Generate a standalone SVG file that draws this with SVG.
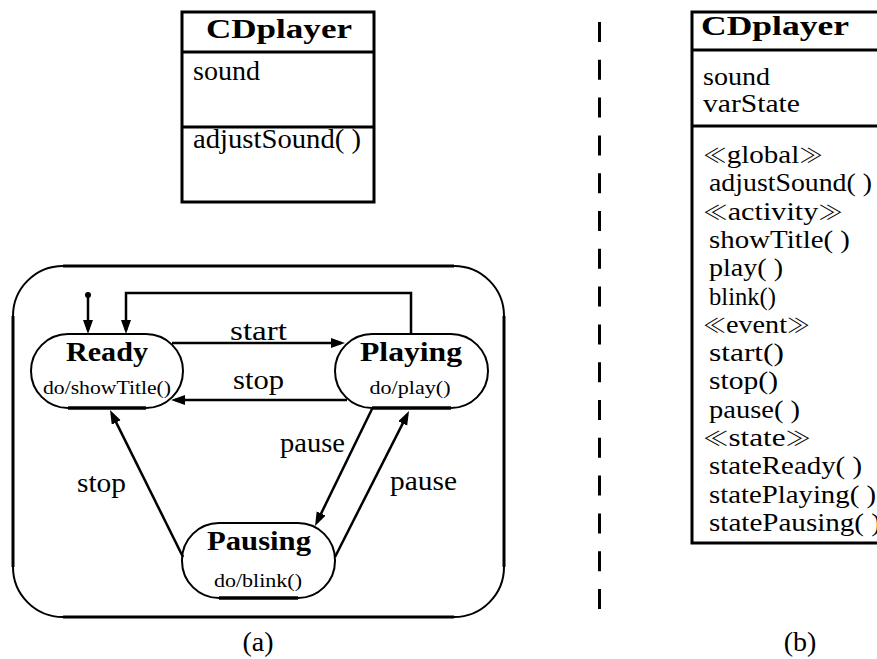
<svg xmlns="http://www.w3.org/2000/svg" width="877" height="659" viewBox="0 0 877 659">
<style>
  text { font-family: "Liberation Serif", "Times New Roman", "DejaVu Serif", serif; fill: #000; }
  .hdr { font-weight: bold; font-size: 27px; text-anchor: middle; }
  .body { font-size: 27px; }
  .list { font-size: 24.5px; }
  .st { font-weight: bold; font-size: 27px; text-anchor: middle; }
  .act { font-size: 18px; text-anchor: middle; }
  .lbl { font-size: 28px; }
  .cap { font-size: 28px; text-anchor: middle; }
  .ster { font-family: "Noto Sans CJK JP", "DejaVu Serif", serif; font-weight: 300; font-size: 20px; }
  .box { fill: #fff; stroke: #000; stroke-width: 3; }
  .sep { stroke: #000; stroke-width: 3; }
  .conn { fill: none; stroke: #000; stroke-width: 2.5; }
  .node { fill: #fff; stroke: #000; stroke-width: 2; }
  .base { stroke: #000; stroke-width: 3.5; }
  .frame { fill: none; stroke: #000; stroke-width: 2; }
  .edge { stroke: #000; stroke-width: 3; }
</style>
<defs>
  <marker id="arrow" markerUnits="userSpaceOnUse" markerWidth="16" markerHeight="12" refX="10" refY="5" orient="auto">
    <path d="M0,0 L14,5 L0,10 Z" fill="#000"/>
  </marker>
</defs>

<!-- (a) class with a single operation -->
<g id="classA">
  <rect class="box" x="182" y="12" width="192" height="190"/>
  <line class="sep" x1="182" y1="52" x2="374" y2="52"/>
  <line class="sep" x1="182" y1="127" x2="374" y2="127"/>
  <text class="hdr" x="279" y="38" textLength="146" lengthAdjust="spacingAndGlyphs">CDplayer</text>
  <text class="body" x="193" y="80" textLength="67" lengthAdjust="spacingAndGlyphs">sound</text>
  <text class="body" x="193" y="148" textLength="168" lengthAdjust="spacingAndGlyphs">adjustSound( )</text>
</g>

<!-- (a) enclosing state machine -->
<g id="machine">
  <rect class="frame" x="13" y="266" width="491" height="351" rx="50" ry="50"/>
  <line class="edge" x1="63" y1="266" x2="454" y2="266"/>
  <line class="edge" x1="63" y1="617" x2="454" y2="617"/>
  <line class="edge" x1="13" y1="316" x2="13" y2="567"/>
  <line class="edge" x1="504" y1="316" x2="504" y2="567"/>
</g>

<g id="ready">
  <rect class="node" x="31" y="334" width="152" height="74" rx="37" ry="37"/>
  <line class="base" x1="68" y1="408" x2="146" y2="408"/>
  <text class="st" x="107" y="361" textLength="82" lengthAdjust="spacingAndGlyphs">Ready</text>
  <text class="act" x="107" y="394" textLength="128" lengthAdjust="spacingAndGlyphs">do/showTitle()</text>
</g>

<g id="playing">
  <rect class="node" x="335" y="334" width="153" height="74" rx="37" ry="37"/>
  <line class="base" x1="372" y1="408" x2="451" y2="408"/>
  <text class="st" x="411" y="361" textLength="102" lengthAdjust="spacingAndGlyphs">Playing</text>
  <text class="act" x="410" y="394" textLength="81" lengthAdjust="spacingAndGlyphs">do/play()</text>
</g>

<g id="pausing">
  <rect class="node" x="182" y="523" width="153" height="75" rx="37" ry="37"/>
  <line class="base" x1="219" y1="598" x2="298" y2="598"/>
  <text class="st" x="259" y="550" textLength="104" lengthAdjust="spacingAndGlyphs">Pausing</text>
  <text class="act" x="258" y="587" textLength="88" lengthAdjust="spacingAndGlyphs">do/blink()</text>
</g>

<!-- transitions -->
<g id="connectors">
  <circle cx="88" cy="295" r="3" fill="#000"/>
  <line class="conn" x1="88" y1="295" x2="88" y2="330" marker-end="url(#arrow)"/>
  <path class="conn" d="M411,334 V293 H126 V330" marker-end="url(#arrow)"/>
  <line class="conn" x1="172" y1="343" x2="341" y2="343" marker-end="url(#arrow)"/>
  <line class="conn" x1="347" y1="400" x2="175" y2="400" marker-end="url(#arrow)"/>
  <line class="conn" x1="183" y1="557" x2="111.8" y2="413.6" marker-end="url(#arrow)"/>
  <line class="conn" x1="372" y1="409" x2="316.8" y2="522.4" marker-end="url(#arrow)"/>
  <line class="conn" x1="335" y1="557" x2="407.2" y2="414.6" marker-end="url(#arrow)"/>
  <text class="lbl" x="230" y="340" textLength="57" lengthAdjust="spacingAndGlyphs">start</text>
  <text class="lbl" x="233" y="389" textLength="51" lengthAdjust="spacingAndGlyphs">stop</text>
  <text class="lbl" x="77" y="492" textLength="49" lengthAdjust="spacingAndGlyphs">stop</text>
  <text class="lbl" x="280" y="452" textLength="65" lengthAdjust="spacingAndGlyphs">pause</text>
  <text class="lbl" x="390" y="490" textLength="67" lengthAdjust="spacingAndGlyphs">pause</text>
</g>

<text class="cap" x="258" y="651">(a)</text>

<!-- divider between the two parts -->
<line x1="599.5" y1="22" x2="599.5" y2="610" stroke="#000" stroke-width="3" stroke-dasharray="20 17.8"/>

<!-- (b) class with stereotyped operations -->
<g id="classB">
  <rect class="box" x="692" y="12" width="220" height="531"/>
  <line class="sep" x1="692" y1="50" x2="912" y2="50"/>
  <line class="sep" x1="692" y1="126" x2="912" y2="126"/>
  <text class="hdr" x="775" y="35" textLength="148" lengthAdjust="spacingAndGlyphs">CDplayer</text>
  <text class="list" x="703" y="85" textLength="67" lengthAdjust="spacingAndGlyphs">sound</text>
  <text class="list" x="703" y="112" textLength="97" lengthAdjust="spacingAndGlyphs">varState</text>
  <text class="list" x="703" y="163" textLength="120" lengthAdjust="spacingAndGlyphs"><tspan class="ster">≪</tspan>global<tspan class="ster">≫</tspan></text>
  <text class="list" x="709" y="191.3" textLength="163" lengthAdjust="spacingAndGlyphs">adjustSound( )</text>
  <text class="list" x="703" y="219.6" textLength="140" lengthAdjust="spacingAndGlyphs"><tspan class="ster">≪</tspan>activity<tspan class="ster">≫</tspan></text>
  <text class="list" x="709" y="247.9" textLength="141" lengthAdjust="spacingAndGlyphs">showTitle( )</text>
  <text class="list" x="709" y="276.2" textLength="74" lengthAdjust="spacingAndGlyphs">play( )</text>
  <text class="list" x="709" y="304.5" textLength="67" lengthAdjust="spacingAndGlyphs">blink()</text>
  <text class="list" x="703" y="332.8" textLength="107" lengthAdjust="spacingAndGlyphs"><tspan class="ster">≪</tspan>event<tspan class="ster">≫</tspan></text>
  <text class="list" x="709" y="361.1" textLength="75" lengthAdjust="spacingAndGlyphs">start()</text>
  <text class="list" x="709" y="389.4" textLength="69" lengthAdjust="spacingAndGlyphs">stop()</text>
  <text class="list" x="709" y="417.7" textLength="91" lengthAdjust="spacingAndGlyphs">pause( )</text>
  <text class="list" x="703" y="446" textLength="108" lengthAdjust="spacingAndGlyphs"><tspan class="ster">≪</tspan>state<tspan class="ster">≫</tspan></text>
  <text class="list" x="709" y="474.3" textLength="153" lengthAdjust="spacingAndGlyphs">stateReady( )</text>
  <text class="list" x="709" y="502.6" textLength="167" lengthAdjust="spacingAndGlyphs">statePlaying( )</text>
  <text class="list" x="709" y="530.9" textLength="172" lengthAdjust="spacingAndGlyphs">statePausing( )</text>
</g>

<text class="cap" x="800" y="651">(b)</text>
</svg>
